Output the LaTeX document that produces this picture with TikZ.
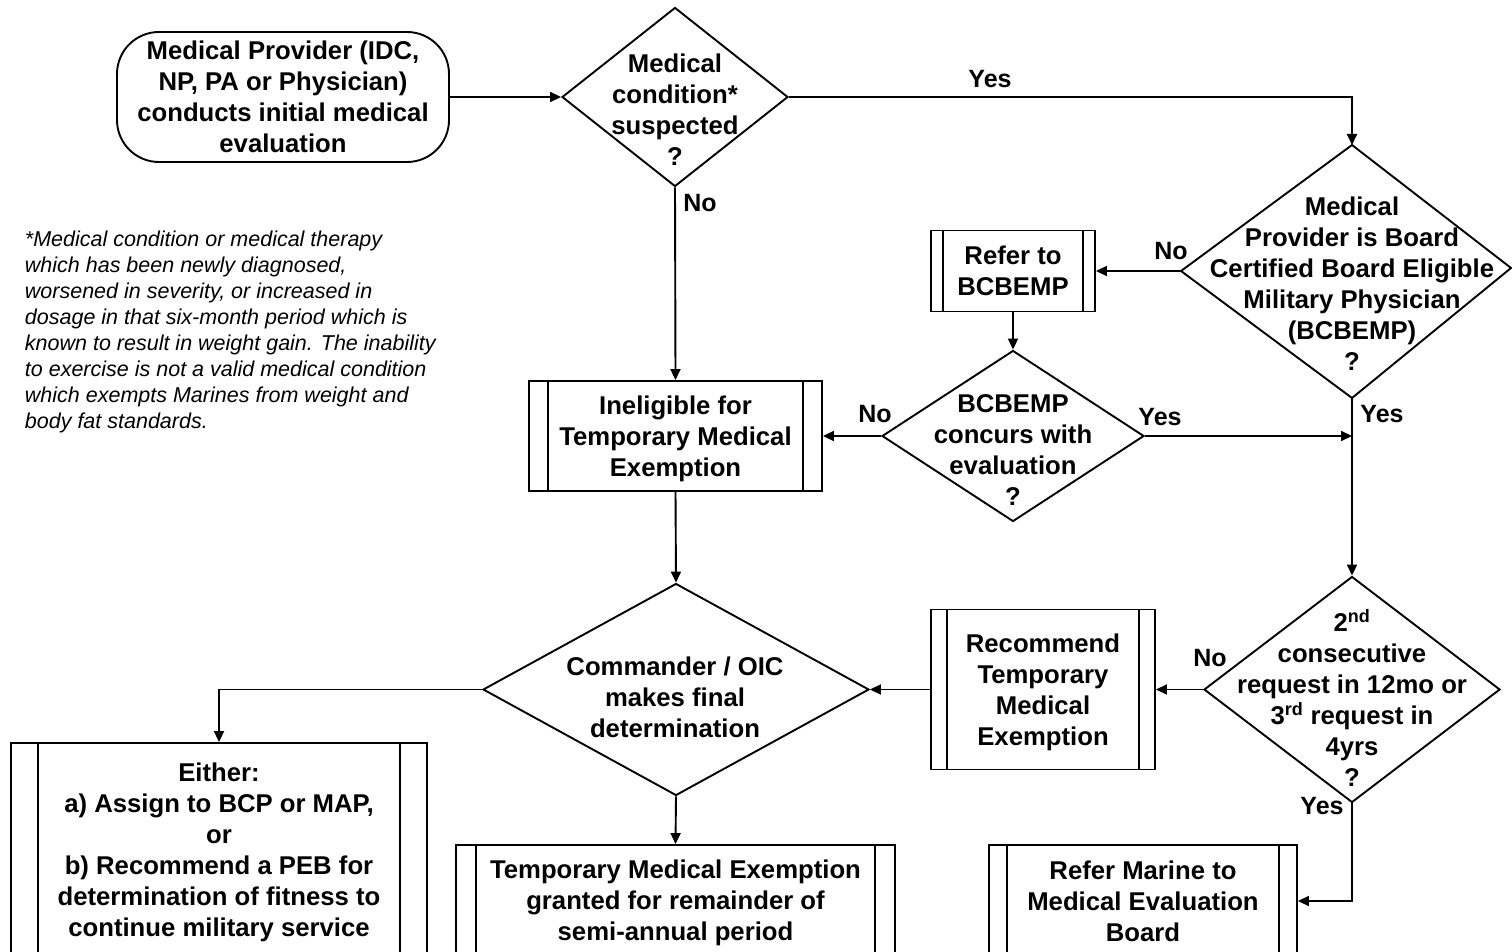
\documentclass[tikz,border=0pt]{standalone}
\usepackage{fontspec}
\setmainfont{Liberation Sans}
\usetikzlibrary{shapes.geometric,arrows.meta}
\begin{document}
\begin{tikzpicture}[x=1pt,y=-1pt,line width=1.9pt,
  every node/.style={font=\bfseries\fontsize{25.7}{31}\selectfont, align=center},
  arr/.style={-{Triangle[length=11pt,width=10pt]}},
  dia/.style={shape=diamond, draw, inner sep=0pt},
  pbox/.style={draw, rectangle, inner sep=0pt, path picture={
     \draw[line width=1.9pt] ([xshift=#1]path picture bounding box.north west) -- ([xshift=#1]path picture bounding box.south west);
     \draw[line width=1.9pt] ([xshift=-#1]path picture bounding box.north east) -- ([xshift=-#1]path picture bounding box.south east);}},
  lbl/.style={font=\bfseries\fontsize{25}{30}\selectfont},
  note/.style={font=\itshape\fontsize{21.5}{26}\selectfont, align=left, anchor=north west, inner sep=0pt}
]
\clip (0,0) rectangle (1512,952);
\fill[white] (0,0) rectangle (1512,952);

% nodes
\node[draw, rounded corners=42pt, minimum width=332pt, minimum height=130pt, inner sep=0pt] (start) at (283,97) {Medical Provider (IDC,\\NP, PA or Physician)\\conducts initial medical\\evaluation};

\node[dia, minimum width=226pt, minimum height=179pt] (d1) at (675,97) {};
\node (d1t) at (675,110) {Medical\\condition*\\suspected\\?};

\coordinate (d2t) at (1352,145);
\coordinate (d2r) at (1511,268);
\coordinate (d2b) at (1352,398);
\coordinate (d2l) at (1181,271);
\draw (d2t) -- (d2r) -- (d2b) -- (d2l) -- cycle;
\node (d2) at (1352,284) {Medical\\Provider is Board\\Certified Board Eligible\\Military Physician\\(BCBEMP)\\?};

\node[pbox=12pt, minimum width=164pt, minimum height=81pt] (refer) at (1013,271) {Refer to\\BCBEMP};

\node[dia, minimum width=262pt, minimum height=171pt] (d3) at (1013,436) {};
\node (d3t) at (1013,450) {BCBEMP\\concurs with\\evaluation\\?};

\node[pbox=19pt, minimum width=293pt, minimum height=110pt] (inel) at (675.5,436) {};
\node (ineltxt) at (675.5,439) {Ineligible for\\Temporary Medical\\Exemption};

\node[dia, minimum width=386pt, minimum height=212pt] (d5) at (676,689.5) {};
\node (d5t) at (675,697) {Commander / OIC\\makes final\\determination};

\node[pbox=16pt, minimum width=224pt, minimum height=160pt] (rec) at (1043,689.5) {};
\node (rectxt) at (1043,692.5) {Recommend\\Temporary\\Medical\\Exemption};

\node[dia, minimum width=296pt, minimum height=226pt] (d4) at (1352,689.5) {};
\node (d4t) at (1352,698) {2\textsuperscript{nd}\\consecutive\\request in 12mo or\\3\textsuperscript{rd} request in\\4yrs\\?};

\node[pbox=27pt, minimum width=416pt, minimum height=214pt] (either) at (219,850) {};
\node (eithertxt) at (219,852) {Either:\\a) Assign to BCP or MAP,\\or\\b) Recommend a PEB for\\determination of fitness to\\continue military service};

\node[pbox=20pt, minimum width=439pt, minimum height=112pt] (temp) at (675.5,901) {};
\node (temptxt) at (675.5,903) {Temporary Medical Exemption\\granted for remainder of\\semi-annual period};

\node[pbox=18pt, minimum width=308pt, minimum height=112pt] (meb) at (1143,901) {Refer Marine to\\Medical Evaluation\\Board};

\node[note] (fn) at (24,230) {*Medical condition or medical therapy\\which has been newly diagnosed,\\worsened in severity, or increased in\\dosage in that six-month period which is\\known to result in weight gain. The inability\\to exercise is not a valid medical condition\\which exempts Marines from weight and\\body fat standards.};

% connectors
\draw[arr] (start.east) -- (d1.west);
\draw[arr] (d1.east) -- (d1.east -| d2t) -- (d2t);
\draw[arr] (d2l) -- (refer.east);
\draw[arr] (refer.south) -- (d3.north);
\draw[arr] (d3.west) -- (inel.east);
\draw[arr] (d3.east) -- (d3.east -| d2b);
\draw[arr] (d2b) -- (d4.north);
\draw[arr] (d1.south) -- (inel.north);
\draw[arr] (inel.south) -- (d5.north);
\draw[arr] (d4.west) -- (rec.east);
\draw[arr] (rec.west) -- (d5.east);
\draw[arr] (d5.west) -| (either.north);
\draw[arr] (d5.south) -- (temp.north);
\draw[arr] (d4.south) |- (meb.east);

% labels
\node[lbl] (l1) at (990,79) {Yes};
\node[lbl] (l2) at (700,203) {No};
\node[lbl] (l3) at (1171,251) {No};
\node[lbl] (l4) at (875,414) {No};
\node[lbl] (l5) at (1160,417) {Yes};
\node[lbl] (l6) at (1382,414) {Yes};
\node[lbl] (l7) at (1210,658) {No};
\node[lbl] (l8) at (1322,806) {Yes};
\end{tikzpicture}
\end{document}
